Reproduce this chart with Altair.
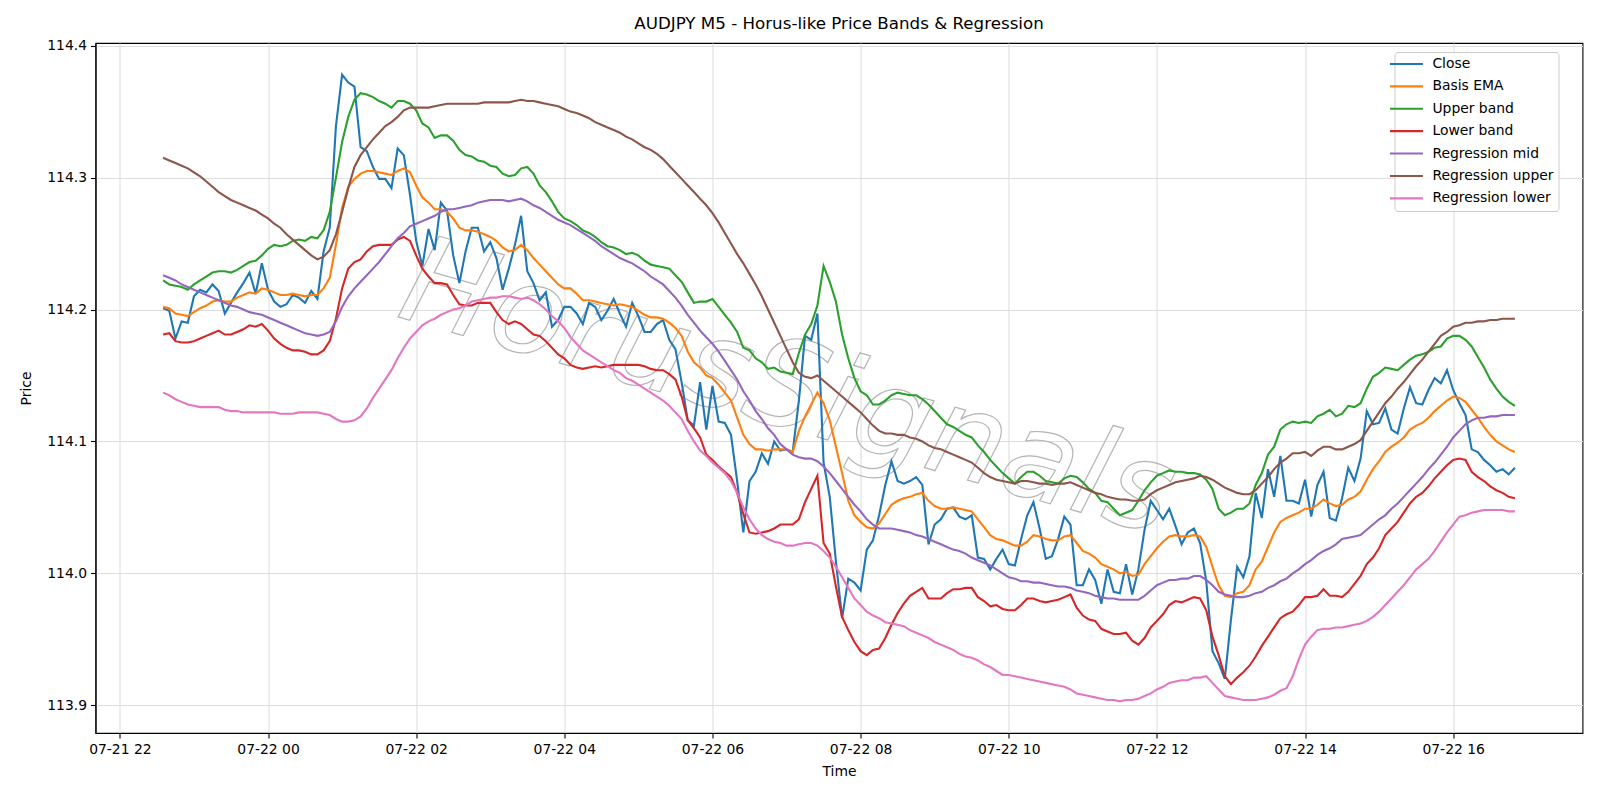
import altair as alt
import pandas as pd

# ---------------- data (AUDJPY M5, 07-21 22:35 .. 07-22 16:50, 5-minute bars) ----------------
start_time = "2025-07-21 22:35"

close = [
    114.201, 114.199, 114.178, 114.191, 114.190, 114.210, 114.215, 114.213, 114.219, 114.214,
    114.197, 114.205, 114.213, 114.220, 114.228, 114.212, 114.235, 114.215, 114.206, 114.202,
    114.204, 114.211, 114.209, 114.205, 114.214, 114.208, 114.244, 114.262, 114.339, 114.378,
    114.372, 114.369, 114.323, 114.320, 114.308, 114.299, 114.299, 114.292, 114.322, 114.317,
    114.287, 114.252, 114.233, 114.261, 114.245, 114.281, 114.275, 114.241, 114.220, 114.244,
    114.262, 114.262, 114.244, 114.251, 114.239, 114.215, 114.231, 114.249, 114.271, 114.229,
    114.220, 114.207, 114.213, 114.187, 114.192, 114.202,
    114.202, 114.197, 114.189, 114.205, 114.202, 114.192, 114.199, 114.208, 114.197, 114.187,
    114.205, 114.195, 114.183, 114.183, 114.189, 114.192, 114.177, 114.170, 114.145, 114.116,
    114.112, 114.145, 114.109, 114.142, 114.115, 114.114, 114.105, 114.070, 114.031, 114.070,
    114.077, 114.091, 114.083, 114.100, 114.093, 114.094, 114.092, 114.131, 114.180, 114.177,
    114.197, 114.084, 114.058, 114.009, 113.966, 113.996, 113.993, 113.987, 114.018, 114.025,
    114.044, 114.067, 114.085, 114.070, 114.068, 114.070, 114.073, 114.067, 114.022, 114.037,
    114.041, 114.049, 114.050, 114.043, 114.041, 114.044, 114.012, 114.011, 114.003, 114.011,
    114.018, 114.007, 114.006, 114.026, 114.044, 114.054, 114.034, 114.011, 114.013, 114.026,
    114.043, 114.037, 113.991, 113.991, 114.003, 113.995, 113.977, 114.003, 113.986, 113.985,
    114.007, 113.984, 114.003, 114.033, 114.055, 114.048, 114.041, 114.049, 114.036, 114.022,
    114.031, 114.034, 114.023, 113.994, 113.941, 113.932, 113.920, 113.965, 114.005, 113.997,
    114.013, 114.061, 114.042, 114.079, 114.058, 114.089, 114.055, 114.055, 114.053, 114.071,
    114.043, 114.067, 114.077, 114.042, 114.040, 114.057, 114.080, 114.070, 114.087, 114.123,
    114.113, 114.114, 114.125, 114.109, 114.106, 114.125, 114.141, 114.129, 114.128, 114.139,
    114.148, 114.144, 114.154, 114.139, 114.129, 114.120, 114.094, 114.092, 114.086, 114.082,
    114.077, 114.079, 114.075, 114.080,
]

basis_ema = [
    114.202, 114.201, 114.197, 114.196, 114.195, 114.198, 114.201, 114.203, 114.206, 114.207,
    114.206, 114.206, 114.209, 114.211, 114.213, 114.212, 114.216, 114.215, 114.213, 114.211,
    114.211, 114.212, 114.211, 114.210, 114.211, 114.211, 114.216, 114.224, 114.249, 114.277,
    114.293, 114.299, 114.303, 114.305, 114.305, 114.304, 114.303, 114.302, 114.305, 114.307,
    114.304, 114.294, 114.285, 114.281, 114.276, 114.276, 114.274, 114.269, 114.262, 114.260,
    114.260, 114.259, 114.257, 114.255, 114.252, 114.247, 114.244, 114.245, 114.249, 114.245,
    114.239, 114.234, 114.229, 114.224, 114.219, 114.216,
    114.216, 114.212, 114.207, 114.207, 114.206, 114.205, 114.204, 114.203, 114.204, 114.203,
    114.202, 114.199, 114.196, 114.194, 114.194, 114.193, 114.190, 114.186, 114.180, 114.168,
    114.160, 114.156, 114.150, 114.148, 114.143, 114.137, 114.131, 114.118, 114.105, 114.098,
    114.094, 114.094, 114.093, 114.094, 114.094, 114.094, 114.092, 114.108, 114.119, 114.128,
    114.137, 114.129, 114.116, 114.096, 114.076, 114.055, 114.044, 114.039, 114.035, 114.034,
    114.038, 114.045, 114.052, 114.055, 114.057, 114.058, 114.060, 114.061, 114.055, 114.051,
    114.049, 114.049, 114.050, 114.049, 114.048, 114.047, 114.041, 114.035, 114.029, 114.026,
    114.025, 114.023, 114.021, 114.021, 114.024, 114.029, 114.028, 114.026, 114.025, 114.025,
    114.028, 114.029, 114.023, 114.017, 114.015, 114.012, 114.007, 114.005, 114.003, 114.000,
    114.001, 113.998, 113.999, 114.007, 114.013, 114.019, 114.024, 114.028, 114.029, 114.028,
    114.028, 114.029, 114.028, 114.020, 114.005, 113.991, 113.983, 113.982, 113.985, 113.986,
    113.991, 114.003, 114.009, 114.020, 114.031, 114.039, 114.042, 114.044, 114.046, 114.049,
    114.049, 114.052, 114.056, 114.053, 114.051, 114.052, 114.056, 114.058, 114.062, 114.071,
    114.079, 114.085, 114.092, 114.096, 114.099, 114.103, 114.109, 114.112, 114.114, 114.118,
    114.123, 114.127, 114.131, 114.134, 114.133, 114.130, 114.124, 114.118, 114.111, 114.105,
    114.100, 114.097, 114.094, 114.092,
]

upper_band = [
    114.222, 114.219, 114.218, 114.217, 114.215, 114.219, 114.222, 114.225, 114.228, 114.229,
    114.229, 114.228, 114.230, 114.233, 114.236, 114.237, 114.241, 114.246, 114.249, 114.248,
    114.249, 114.252, 114.253, 114.252, 114.255, 114.254, 114.260, 114.274, 114.300, 114.327,
    114.346, 114.359, 114.364, 114.363, 114.361, 114.358, 114.356, 114.353, 114.358, 114.358,
    114.356, 114.351, 114.341, 114.338, 114.330, 114.332, 114.332, 114.328, 114.321, 114.317,
    114.316, 114.313, 114.312, 114.309, 114.308, 114.303, 114.301, 114.302, 114.307, 114.308,
    114.303, 114.294, 114.289, 114.282, 114.274, 114.269,
    114.267, 114.264, 114.260, 114.258, 114.255, 114.251, 114.248, 114.247, 114.245, 114.242,
    114.243, 114.241, 114.237, 114.234, 114.233, 114.232, 114.231, 114.226, 114.221, 114.213,
    114.205, 114.206, 114.206, 114.208, 114.202, 114.196, 114.190, 114.183, 114.171, 114.169,
    114.163, 114.160, 114.155, 114.156, 114.153, 114.152, 114.151, 114.167, 114.181, 114.189,
    114.203, 114.233, 114.221, 114.206, 114.181, 114.163, 114.148, 114.138, 114.135, 114.128,
    114.128, 114.131, 114.135, 114.137, 114.136, 114.135, 114.135, 114.132, 114.128, 114.123,
    114.118, 114.113, 114.111, 114.108, 114.105, 114.103, 114.097, 114.092, 114.086, 114.081,
    114.076, 114.072, 114.068, 114.073, 114.077, 114.077, 114.074, 114.070, 114.069, 114.068,
    114.072, 114.074, 114.073, 114.069, 114.064, 114.061, 114.055, 114.054, 114.049, 114.044,
    114.046, 114.048, 114.055, 114.063, 114.069, 114.074, 114.076, 114.078, 114.077, 114.077,
    114.076, 114.076, 114.075, 114.071, 114.064, 114.049, 114.044, 114.046, 114.049, 114.049,
    114.053, 114.067, 114.076, 114.090, 114.096, 114.109, 114.113, 114.115, 114.114, 114.115,
    114.114, 114.119, 114.121, 114.124, 114.119, 114.121, 114.127, 114.126, 114.129, 114.140,
    114.149, 114.152, 114.156, 114.155, 114.154, 114.158, 114.162, 114.165, 114.166, 114.168,
    114.171, 114.172, 114.178, 114.180, 114.180, 114.177, 114.172, 114.164, 114.156, 114.147,
    114.140, 114.134, 114.130, 114.127,
]

lower_band = [
    114.181, 114.182, 114.176, 114.175, 114.175, 114.176, 114.178, 114.180, 114.182, 114.184,
    114.181, 114.181, 114.183, 114.185, 114.188, 114.187, 114.189, 114.184, 114.178, 114.174,
    114.171, 114.169, 114.169, 114.168, 114.166, 114.166, 114.169, 114.176, 114.193, 114.216,
    114.231, 114.236, 114.238, 114.244, 114.248, 114.249, 114.249, 114.249, 114.253, 114.255,
    114.252, 114.241, 114.231, 114.225, 114.220, 114.220, 114.219, 114.211, 114.204, 114.203,
    114.203, 114.205, 114.205, 114.205, 114.198, 114.192, 114.189, 114.191, 114.189, 114.185,
    114.181, 114.180, 114.176, 114.171, 114.166, 114.163,
    114.158, 114.156, 114.155, 114.156, 114.157, 114.156, 114.157, 114.158, 114.158, 114.158,
    114.158, 114.158, 114.157, 114.155, 114.154, 114.154, 114.151, 114.147, 114.134, 114.116,
    114.110, 114.103, 114.090, 114.086, 114.081, 114.077, 114.073, 114.061, 114.045, 114.031,
    114.030, 114.031, 114.032, 114.034, 114.037, 114.037, 114.037, 114.041, 114.054, 114.064,
    114.074, 114.023, 114.015, 113.990, 113.967, 113.957, 113.948, 113.941, 113.938, 113.942,
    113.943, 113.951, 113.961, 113.970, 113.977, 113.983, 113.986, 113.989, 113.981, 113.981,
    113.981, 113.985, 113.988, 113.988, 113.989, 113.989, 113.982, 113.979, 113.975, 113.976,
    113.973, 113.972, 113.972, 113.976, 113.981, 113.981, 113.979, 113.978, 113.979, 113.980,
    113.982, 113.984, 113.974, 113.968, 113.965, 113.964, 113.958, 113.956, 113.954, 113.954,
    113.955, 113.949, 113.946, 113.951, 113.959, 113.964, 113.969, 113.976, 113.979, 113.978,
    113.980, 113.982, 113.981, 113.972, 113.952, 113.938, 113.922, 113.916, 113.921, 113.925,
    113.930, 113.937, 113.945, 113.952, 113.959, 113.966, 113.969, 113.971, 113.976, 113.982,
    113.982, 113.983, 113.988, 113.983, 113.983, 113.982, 113.986, 113.992, 113.998, 114.007,
    114.012, 114.019, 114.029, 114.034, 114.039, 114.046, 114.053, 114.058, 114.061, 114.066,
    114.072, 114.077, 114.082, 114.086, 114.087, 114.086, 114.077, 114.073, 114.070, 114.066,
    114.063, 114.061, 114.058, 114.057,
]

regression_mid = [
    114.226, 114.224, 114.222, 114.219, 114.217, 114.215, 114.213, 114.211, 114.209, 114.207,
    114.205, 114.203, 114.202, 114.200, 114.198, 114.197, 114.196, 114.194, 114.192, 114.190,
    114.188, 114.186, 114.184, 114.182, 114.181, 114.180, 114.181, 114.183, 114.191, 114.202,
    114.210, 114.216, 114.221, 114.226, 114.231, 114.236, 114.242, 114.248, 114.254, 114.258,
    114.263, 114.265, 114.267, 114.269, 114.271, 114.274, 114.276, 114.276, 114.277, 114.278,
    114.279, 114.281, 114.282, 114.283, 114.283, 114.283, 114.282, 114.283, 114.284, 114.282,
    114.279, 114.277, 114.274, 114.271, 114.268, 114.266,
    114.264, 114.261, 114.258, 114.255, 114.252, 114.248, 114.245, 114.242, 114.239, 114.237,
    114.235, 114.232, 114.229, 114.225, 114.222, 114.219, 114.214, 114.209, 114.203, 114.196,
    114.190, 114.184, 114.179, 114.174, 114.168, 114.161, 114.154, 114.147, 114.138, 114.131,
    114.123, 114.117, 114.110, 114.105, 114.098, 114.094, 114.090, 114.088, 114.087, 114.087,
    114.085, 114.081, 114.076, 114.070, 114.064, 114.058, 114.052, 114.047, 114.041, 114.037,
    114.034, 114.034, 114.034, 114.033, 114.032, 114.031, 114.029, 114.028, 114.026, 114.024,
    114.022, 114.020, 114.018, 114.017, 114.015, 114.012, 114.010, 114.008, 114.006, 114.003,
    114.000, 113.997, 113.996, 113.994, 113.994, 113.993, 113.993, 113.992, 113.991, 113.990,
    113.990, 113.989, 113.987, 113.986, 113.985, 113.983, 113.982, 113.981, 113.981, 113.980,
    113.980, 113.980, 113.980, 113.983, 113.987, 113.991, 113.993, 113.995, 113.995, 113.996,
    113.996, 113.998, 113.998, 113.995, 113.991, 113.986, 113.984, 113.983, 113.982, 113.982,
    113.983, 113.985, 113.986, 113.989, 113.991, 113.994, 113.996, 114.000, 114.003, 114.007,
    114.010, 114.014, 114.017, 114.019, 114.022, 114.026, 114.027, 114.028, 114.029, 114.033,
    114.037, 114.041, 114.044, 114.049, 114.053, 114.058, 114.063, 114.068, 114.073, 114.079,
    114.084, 114.090, 114.096, 114.103, 114.108, 114.113, 114.116, 114.118, 114.118, 114.119,
    114.119, 114.120, 114.120, 114.120,
]

regression_upper = [
    114.315, 114.313, 114.311, 114.309, 114.307, 114.304, 114.301, 114.297, 114.293, 114.289,
    114.286, 114.283, 114.281, 114.279, 114.277, 114.275, 114.272, 114.269, 114.265, 114.262,
    114.257, 114.253, 114.249, 114.245, 114.241, 114.238, 114.240, 114.245, 114.257, 114.274,
    114.292, 114.308, 114.317, 114.323, 114.329, 114.334, 114.339, 114.342, 114.346, 114.351,
    114.353, 114.353, 114.353, 114.353, 114.354, 114.355, 114.356, 114.356, 114.356, 114.356,
    114.356, 114.356, 114.357, 114.357, 114.357, 114.357, 114.357, 114.358, 114.359, 114.358,
    114.358, 114.357, 114.356, 114.355, 114.354, 114.352,
    114.350, 114.349, 114.347, 114.345, 114.342, 114.340, 114.338, 114.336, 114.334, 114.331,
    114.329, 114.326, 114.323, 114.321, 114.318, 114.314, 114.309, 114.304, 114.299, 114.294,
    114.289, 114.284, 114.279, 114.273, 114.266, 114.258, 114.250, 114.242, 114.235, 114.227,
    114.219, 114.210, 114.200, 114.190, 114.180, 114.170, 114.160, 114.152, 114.149, 114.148,
    114.150, 114.146, 114.142, 114.138, 114.134, 114.130, 114.126, 114.122, 114.117, 114.112,
    114.108, 114.106, 114.106, 114.105, 114.105, 114.103, 114.102, 114.100, 114.097, 114.095,
    114.094, 114.092, 114.090, 114.088, 114.086, 114.084, 114.080, 114.076, 114.073, 114.071,
    114.070, 114.069, 114.068, 114.070, 114.070, 114.069, 114.068, 114.068, 114.067, 114.068,
    114.068, 114.069, 114.067, 114.065, 114.063, 114.061, 114.060, 114.058, 114.057, 114.056,
    114.056, 114.055, 114.055, 114.056, 114.060, 114.063, 114.065, 114.067, 114.069, 114.070,
    114.071, 114.072, 114.074, 114.073, 114.071, 114.068, 114.065, 114.063, 114.061, 114.060,
    114.060, 114.063, 114.068, 114.073, 114.079, 114.084, 114.087, 114.091, 114.091, 114.092,
    114.089, 114.093, 114.096, 114.096, 114.094, 114.094, 114.096, 114.098, 114.101, 114.108,
    114.115, 114.122, 114.129, 114.134, 114.140, 114.145, 114.151, 114.157, 114.162, 114.168,
    114.174, 114.180, 114.183, 114.187, 114.188, 114.190, 114.190, 114.191, 114.191, 114.192,
    114.192, 114.193, 114.193, 114.193,
]

regression_lower = [
    114.137, 114.135, 114.132, 114.130, 114.128, 114.127, 114.126, 114.126, 114.126, 114.126,
    114.124, 114.123, 114.123, 114.122, 114.122, 114.122, 114.122, 114.122, 114.122, 114.121,
    114.121, 114.121, 114.122, 114.122, 114.122, 114.122, 114.121, 114.120, 114.117, 114.115,
    114.115, 114.116, 114.119, 114.125, 114.133, 114.140, 114.147, 114.154, 114.163, 114.171,
    114.178, 114.183, 114.188, 114.191, 114.193, 114.196, 114.198, 114.200, 114.201, 114.203,
    114.206, 114.207, 114.208, 114.209, 114.209, 114.210, 114.210, 114.209, 114.208, 114.209,
    114.207, 114.204, 114.200, 114.195, 114.191, 114.186,
    114.179, 114.174, 114.169, 114.166, 114.163, 114.160, 114.157, 114.154, 114.152, 114.148,
    114.146, 114.143, 114.140, 114.137, 114.134, 114.131, 114.127, 114.122, 114.117, 114.108,
    114.100, 114.093, 114.089, 114.084, 114.080, 114.076, 114.070, 114.061, 114.050, 114.041,
    114.034, 114.029, 114.026, 114.024, 114.023, 114.021, 114.021, 114.022, 114.023, 114.023,
    114.021, 114.017, 114.012, 114.005, 113.997, 113.989, 113.981, 113.976, 113.971, 113.968,
    113.966, 113.963, 113.962, 113.961, 113.960, 113.957, 113.955, 113.953, 113.951, 113.948,
    113.946, 113.944, 113.942, 113.939, 113.937, 113.936, 113.934, 113.931, 113.929, 113.926,
    113.923, 113.923, 113.922, 113.921, 113.920, 113.919, 113.918, 113.917, 113.916, 113.915,
    113.914, 113.912, 113.909, 113.908, 113.907, 113.906, 113.905, 113.904, 113.904, 113.903,
    113.904, 113.904, 113.905, 113.907, 113.909, 113.912, 113.914, 113.917, 113.918, 113.919,
    113.919, 113.921, 113.921, 113.922, 113.917, 113.912, 113.907, 113.906, 113.905, 113.904,
    113.904, 113.904, 113.905, 113.906, 113.908, 113.911, 113.913, 113.922, 113.935, 113.946,
    113.952, 113.957, 113.958, 113.958, 113.959, 113.959, 113.960, 113.961, 113.962, 113.964,
    113.967, 113.971, 113.976, 113.981, 113.986, 113.991, 113.997, 114.003, 114.007, 114.011,
    114.017, 114.024, 114.031, 114.037, 114.043, 114.044, 114.046, 114.047, 114.048, 114.048,
    114.048, 114.048, 114.047, 114.047,
]

series_names = ["Close", "Basis EMA", "Upper band", "Lower band",
                "Regression mid", "Regression upper", "Regression lower"]
series_colors = ["#1f77b4", "#ff7f0e", "#2ca02c", "#d62728",
                 "#9467bd", "#8c564b", "#e377c2"]
series_values = [close, basis_ema, upper_band, lower_band,
                 regression_mid, regression_upper, regression_lower]

# x-axis ticks: (day, hour) every two hours, labelled "%m-%d %H"
tick_day_hour = [(21, 22), (22, 0), (22, 2), (22, 4), (22, 6), (22, 8),
                 (22, 10), (22, 12), (22, 14), (22, 16)]
y_ticks = [113.9, 114.0, 114.1, 114.2, 114.3, 114.4]
y_domain = [113.879, 114.402]

watermark_text = ["HorusSignals"]
watermark_time = ["2025-07-22T07:01:00"]
watermark_price = [114.139]

# ---------------- build tables ----------------
times = pd.date_range(start_time, periods=len(close), freq="5min").strftime("%Y-%m-%dT%H:%M:%S")
rows = []
for name, vals in zip(series_names, series_values):
    for t, v in zip(times, vals):
        rows.append({"time": t, "value": v, "series": name})
df = pd.DataFrame(rows)

wm_df = pd.DataFrame({"time": watermark_time, "value": watermark_price, "text": watermark_text})

FONT = "DejaVu Sans"
PLOT_W, PLOT_H = 1487, 690

x_domain = [alt.DateTime(year=2025, month=7, date=21, hours=21, minutes=40, seconds=15),
            alt.DateTime(year=2025, month=7, date=22, hours=17, minutes=44, seconds=45)]
x_ticks = [alt.DateTime(year=2025, month=7, date=d, hours=h) for d, h in tick_day_hour]

x_enc = alt.X("time:T",
              scale=alt.Scale(domain=x_domain),
              axis=alt.Axis(values=x_ticks, format="%m-%d %H", title="Time",
                            titleY=38, titleBaseline="middle", titleAnchor="middle"))
y_enc = alt.Y("value:Q",
              scale=alt.Scale(domain=y_domain, nice=False, zero=False),
              axis=alt.Axis(values=y_ticks, format=".1f", title="Price",
                            titleX=-69, titleY=PLOT_H / 2, titleAngle=-90,
                            titleBaseline="middle", titleAlign="center"))
color_enc = alt.Color(
    "series:N",
    scale=alt.Scale(domain=series_names, range=series_colors),
    legend=alt.Legend(orient="none", legendX=1299, legendY=9, title=None,
                      symbolType="M-3.3,0H3.3", symbolSize=100, symbolStrokeWidth=2.1,
                      labelFont=FONT, labelFontSize=13.9, labelColor="black",
                      labelOffset=19, padding=5, rowPadding=7.4,
                      strokeColor="#cccccc", fillColor="rgba(255,255,255,0.85)",
                      cornerRadius=3),
)

watermark = alt.Chart(wm_df).mark_text(
    font=FONT, fontSize=122, fontStyle="italic", angle=16,
    fill="transparent", stroke="#b5b5b5", strokeWidth=1.2,
    align="center", baseline="middle",
).encode(x=alt.X("time:T"), y=alt.Y("value:Q"), text="text:N")

line_layers = []
for name in series_names:
    line_layers.append(
        alt.Chart(df).transform_filter(alt.datum.series == name)
        .mark_line(strokeWidth=2.1, clip=True)
        .encode(x=x_enc, y=y_enc, color=color_enc)
    )

chart = alt.layer(watermark, *line_layers).properties(
    width=PLOT_W, height=PLOT_H,
    background="white",
    title=alt.TitleParams("AUDJPY M5 - Horus-like Price Bands & Regression",
                          font=FONT, fontSize=16.7, fontWeight="normal",
                          anchor="middle", offset=6, color="black"),
    autosize=alt.AutoSizeParams(type="none"),
    padding={"left": 95.5, "top": 43, "right": 17.5, "bottom": 67},
).configure_view(
    stroke="black", strokeWidth=1.1,
).configure_axis(
    labelFont=FONT, labelFontSize=13.9, labelColor="black",
    titleFont=FONT, titleFontSize=13.9, titleFontWeight="normal", titleColor="black",
    domainColor="black", domainWidth=1.1,
    tickColor="black", tickWidth=1.1, tickSize=5, labelPadding=4,
    gridColor="#dedede", gridWidth=1.1,
)

chart.save("out.html", embed_options={"renderer": "svg", "actions": False})
